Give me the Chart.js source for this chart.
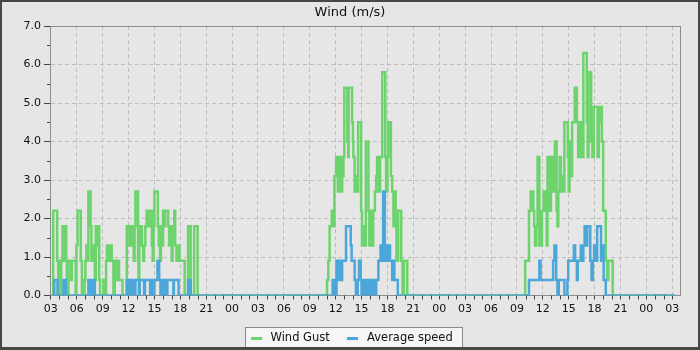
<!DOCTYPE html>
<html>
<head>
<meta charset="utf-8">
<script src="https://cdn.jsdelivr.net/npm/chart.js@4.4.1/dist/chart.umd.min.js"></script>
<style>
  html, body { margin: 0; padding: 0; background: #474747; }
  #wrap { position: absolute; left: 2px; top: 2px; width: 696px; height: 345px; background: #e6e6e6; overflow: hidden; }
  canvas { display: block; }
</style>
</head>
<body>
<div id="wrap"><canvas id="wind" width="696" height="345"></canvas></div>
<script>
// time in hours since midnight of the first day, values in m/s (each point holds until the next)
const gustTimes = [
  3.10, 3.27, 3.73, 3.85, 3.95, 4.10, 4.20, 4.35, 4.55, 4.62, 4.77, 4.85, 5.04, 5.35, 5.42, 5.88,
  5.96, 6.10, 6.46, 6.60, 6.90, 7.00, 7.12, 7.20, 7.35, 7.60, 7.70, 7.80, 7.95, 8.10, 8.20, 8.40,
  8.48, 8.60, 8.70, 9.10, 9.20, 9.40, 9.50, 9.75, 9.85, 10.05, 10.25, 10.40, 10.70, 10.80, 10.90, 11.30,
  11.80, 12.10, 12.20, 12.35, 12.45, 12.60, 12.70, 12.80, 13.10, 13.15, 13.25, 13.35, 13.55, 13.70, 13.80, 13.95,
  14.10, 14.20, 14.40, 14.70, 14.80, 14.90, 15.00, 15.40, 15.50, 15.65, 15.75, 15.85, 16.00, 16.15, 16.25, 16.60,
  16.70, 16.85, 17.00, 17.10, 17.30, 17.40, 17.55, 17.70, 17.90, 18.50, 18.90, 19.20, 19.60, 20.00,
  35.00, 35.15, 35.30, 35.55, 35.70, 35.85, 36.05, 36.25, 36.35, 36.45, 36.65, 36.75, 36.90, 37.00, 37.35, 37.45,
  37.50, 37.90, 38.00, 38.05, 38.20, 38.30, 38.45, 38.60, 38.95, 39.05, 39.20, 39.35, 39.50, 39.80, 39.90, 40.05,
  40.20, 40.35, 40.55, 40.70, 40.80, 41.00, 41.15, 41.40, 41.75, 41.85, 42.00, 42.10, 42.40, 42.55, 42.70, 42.85,
  42.95, 43.05, 43.25, 43.60, 43.75, 43.90, 44.30,
  57.96, 58.40, 58.60, 58.90, 59.00, 59.10, 59.25, 59.40, 59.60, 59.70, 59.80, 59.90, 60.10, 60.35, 60.45, 60.55,
  60.80, 60.95, 61.05, 61.20, 61.40, 61.60, 61.70, 61.80, 61.95, 62.10, 62.20, 62.35, 62.50, 62.90, 63.00, 63.10,
  63.25, 63.40, 63.70, 63.95, 64.10, 64.30, 64.50, 64.70, 65.10, 65.20, 65.30, 65.60, 65.75, 65.90, 66.35, 66.50,
  66.60, 66.85, 67.00, 67.30, 67.45, 67.60, 68.10, 75.30
];
const gustSpeeds = [
  0, 2.2, 0.9, 0, 0.9, 0, 0.9, 1.8, 0.9, 1.8, 0.9, 0, 0.9, 0.4, 0.9, 0,
  1.3, 2.2, 0.9, 0, 0.4, 0.9, 1.3, 0.9, 2.7, 1.8, 0.9, 1.3, 0.9, 0.4, 1.8, 1.3,
  1.8, 0.4, 0, 0.4, 0, 0.9, 1.3, 0.9, 1.3, 0.9, 0, 0.9, 0.4, 0.9, 0.4, 0,
  1.8, 1.3, 1.8, 1.3, 1.8, 0.9, 1.8, 2.7, 0.9, 0.4, 1.3, 1.8, 1.3, 0.9, 1.3, 1.8,
  2.2, 1.8, 2.2, 1.3, 0.9, 1.8, 2.7, 1.8, 1.3, 0.9, 1.8, 1.3, 2.2, 1.8, 2.2, 1.8,
  1.3, 1.8, 0.9, 1.8, 2.2, 1.3, 0.9, 1.3, 0.9, 0, 1.8, 0, 1.8, 0,
  0.4, 0.9, 1.8, 2.2, 1.8, 3.1, 3.6, 2.7, 3.1, 3.6, 2.7, 3.1, 3.6, 5.4, 4.0, 3.6,
  5.4, 4.5, 4.0, 3.6, 2.7, 3.1, 2.7, 4.5, 2.2, 1.3, 1.8, 1.3, 4.0, 2.2, 1.3, 2.2,
  1.3, 2.2, 2.7, 3.1, 3.6, 2.7, 3.6, 5.8, 3.6, 2.7, 3.6, 4.5, 3.1, 2.7, 1.8, 2.7,
  1.8, 0.9, 2.2, 0.9, 0, 0.9, 0,
  0.9, 2.2, 2.7, 2.2, 1.8, 1.3, 1.8, 3.6, 1.3, 2.2, 1.3, 2.2, 2.7, 2.2, 1.3, 3.6,
  2.2, 2.7, 3.6, 2.7, 4.0, 2.2, 1.8, 2.7, 3.6, 2.7, 3.1, 2.7, 4.5, 3.6, 2.7, 4.0,
  3.1, 4.5, 5.4, 4.5, 3.6, 4.5, 3.6, 6.3, 4.5, 3.6, 5.8, 4.0, 3.6, 4.9, 3.6, 4.5,
  4.9, 4.0, 2.2, 0.9, 0.4, 0.9, 0, 0
];

const avgTimes = [
  3.10, 3.40, 3.77, 4.46, 4.73, 7.35, 7.65, 7.80, 8.10, 11.80, 12.10, 12.15, 12.40, 12.50, 12.70, 12.80,
  13.20, 13.30, 13.80, 13.90, 14.50, 14.60, 14.70, 15.00, 15.35, 15.55, 15.70, 15.80, 16.10, 16.20, 16.40, 16.50,
  17.20, 17.25, 17.80, 18.90, 19.20,
  35.65, 35.90, 36.10, 36.30, 36.50, 36.60, 36.75, 37.20, 37.75, 37.85, 38.20, 38.35, 38.55, 38.70, 38.90, 39.00,
  39.10, 39.20, 39.30, 39.45, 39.55, 39.75, 40.00, 40.20, 40.30, 40.45, 40.70, 40.95, 41.20, 41.35, 41.50, 41.70,
  41.85, 42.00, 42.15, 42.30, 42.55, 42.65, 42.80, 43.20,
  58.40, 59.60, 59.75, 61.20, 61.35, 61.55, 61.70, 61.85, 62.50, 62.85, 62.95, 63.60, 63.75, 63.95, 64.05, 64.40,
  64.55, 64.70, 64.85, 65.05, 65.15, 65.50, 65.65, 65.80, 65.95, 66.10, 66.30, 66.75, 66.90, 67.05, 67.30, 75.30
];
const avgSpeeds = [
  0, 0.4, 0, 0.4, 0, 0.4, 0, 0.4, 0, 0.4, 0, 0.4, 0, 0.4, 0, 0.4,
  0, 0.4, 0, 0.4, 0, 0.4, 0, 0.4, 0.9, 0.4, 0, 0.4, 0, 0.4, 0, 0.4,
  0, 0.4, 0, 0.4, 0,
  0.4, 0, 0.9, 0.4, 0.9, 0.4, 0.9, 1.8, 1.3, 0.9, 0.4, 0, 0.4, 0.9, 0.4, 0,
  0.4, 0, 0.4, 0, 0.4, 0, 0.4, 0, 0.4, 0, 0.4, 0.9, 1.3, 0.9, 2.7, 0.9,
  1.3, 0.9, 1.3, 0.9, 0.4, 0.9, 0.4, 0,
  0.4, 0.9, 0.4, 0.9, 1.3, 0.4, 0, 0.4, 0, 0.4, 0.9, 1.3, 0.9, 0.4, 0.9, 1.3,
  0.9, 1.3, 1.8, 1.3, 1.8, 0.9, 0.4, 0.9, 1.3, 0.9, 1.8, 0.9, 1.3, 0.4, 0, 0
];

const xTicks = [3, 6, 9, 12, 15, 18, 21, 24, 27, 30, 33, 36, 39, 42, 45, 48, 51, 54, 57, 60, 63, 66, 69, 72, 75];
const xTickLabels = ['03', '06', '09', '12', '15', '18', '21', '00', '03', '06', '09', '12', '15', '18', '21', '00',
                     '03', '06', '09', '12', '15', '18', '21', '00', '03'];
const yTicks = [0, 1, 2, 3, 4, 5, 6, 7];

const gustColor = '#6dd36d';
const avgColor = '#4ba6d9';

function toPoints(times, speeds) {
  return times.map((t, i) => ({x: t, y: speeds[i]}));
}

// short flat bar used as the legend marker
function legendMark(color) {
  const cv = document.createElement('canvas');
  cv.width = 11;
  cv.height = 3;
  const g = cv.getContext('2d');
  g.fillStyle = color;
  g.fillRect(0, 0, 11, 3);
  return cv;
}

// plot frame, legend box and the small hour / half unit ticks
const chartDecor = {
  id: 'chartDecor',
  beforeDraw(chart) {
    const c = chart.ctx;
    const hb = chart.legend.legendHitBoxes;
    if (!hb || !hb.length) return;
    const first = hb[0], last = hb[hb.length - 1];
    const cy = first.top + first.height / 2;
    const x0 = Math.round(first.left - 2) + 0.5;
    const x1 = Math.round(last.left + last.width + 9) + 0.5;
    const y0 = Math.round(cy - 11) + 0.5;
    c.save();
    c.fillStyle = '#f6f6f6';
    c.fillRect(x0, y0, x1 - x0, 40);
    c.strokeStyle = '#8a8a8a';
    c.lineWidth = 1;
    c.strokeRect(x0, y0, x1 - x0, 40);
    c.restore();
  },
  beforeDatasetsDraw(chart) {
    const c = chart.ctx, a = chart.chartArea;
    c.save();
    c.strokeStyle = '#8c8c8c';
    c.lineWidth = 1;
    c.strokeRect(Math.round(a.left) + 0.5, Math.round(a.top) + 0.5,
                 Math.round(a.right - a.left), Math.round(a.bottom - a.top));
    c.restore();
  },
  afterDraw(chart) {
    const c = chart.ctx, xs = chart.scales.x, ys = chart.scales.y;
    c.save();
    c.strokeStyle = '#444';
    c.lineWidth = 1;
    c.beginPath();
    for (let h = Math.ceil(xs.min); h <= xs.max; h++) {
      if (h % 3 === 0) continue;
      const px = Math.round(xs.getPixelForValue(h)) + 0.5;
      c.moveTo(px, xs.top);
      c.lineTo(px, xs.top + 4);
    }
    for (let v = 0.5; v < ys.max; v += 1) {
      const py = Math.round(ys.getPixelForValue(v)) + 0.5;
      c.moveTo(ys.right - 3, py);
      c.lineTo(ys.right, py);
    }
    c.stroke();
    c.restore();
  }
};

const font = {family: "'DejaVu Sans', sans-serif", size: 11};

new Chart(document.getElementById('wind').getContext('2d'), {
  type: 'line',
  data: {
    datasets: [
      {
        label: 'Wind Gust',
        data: toPoints(gustTimes, gustSpeeds),
        borderColor: gustColor,
        backgroundColor: gustColor,
        borderWidth: 2.5,
        stepped: true,
        pointRadius: 0,
        pointStyle: legendMark(gustColor),
        order: 1
      },
      {
        label: 'Average speed',
        data: toPoints(avgTimes, avgSpeeds),
        borderColor: avgColor,
        backgroundColor: avgColor,
        borderWidth: 2.5,
        stepped: true,
        pointRadius: 0,
        pointStyle: legendMark(avgColor),
        order: 0
      }
    ]
  },
  options: {
    responsive: false,
    animation: false,
    events: [],
    layout: {
      padding: {left: 18, right: 18, top: 0, bottom: -7}
    },
    scales: {
      x: {
        type: 'linear',
        min: 2.9,
        max: 75.9,
        afterBuildTicks: s => { s.ticks = xTicks.map(v => ({value: v})); },
        afterFit: s => { s.height = 23; },
        ticks: {
          autoSkip: false,
          maxRotation: 0,
          padding: 3,
          color: '#111',
          font: font,
          callback: v => xTickLabels[xTicks.indexOf(v)]
        },
        grid: {
          color: '#bdbdbd',
          tickColor: '#444',
          tickLength: 4
        },
        border: {color: '#8c8c8c', dash: [4, 3]}
      },
      y: {
        min: 0,
        max: 7,
        afterBuildTicks: s => { s.ticks = yTicks.map(v => ({value: v})); },
        afterFit: s => { s.width = 30; },
        ticks: {
          padding: 3,
          color: '#111',
          font: font,
          callback: v => v.toFixed(1)
        },
        grid: {
          color: '#bdbdbd',
          tickColor: '#444',
          tickLength: 6
        },
        border: {color: '#8c8c8c', dash: [4, 3]}
      }
    },
    plugins: {
      title: {
        display: true,
        text: 'Wind (m/s)',
        color: '#111',
        font: {family: "'DejaVu Sans', sans-serif", size: 13, weight: 'normal'},
        padding: {top: 3, bottom: 5.5}
      },
      legend: {
        position: 'bottom',
        labels: {
          color: '#111',
          font: {family: "'DejaVu Sans', sans-serif", size: 11.5},
          padding: 14,
          usePointStyle: true,
          pointStyleWidth: 17.5,
          sort: (a, b) => a.datasetIndex - b.datasetIndex
        }
      },
      tooltip: {enabled: false}
    }
  },
  plugins: [chartDecor]
});
</script>
</body>
</html>
